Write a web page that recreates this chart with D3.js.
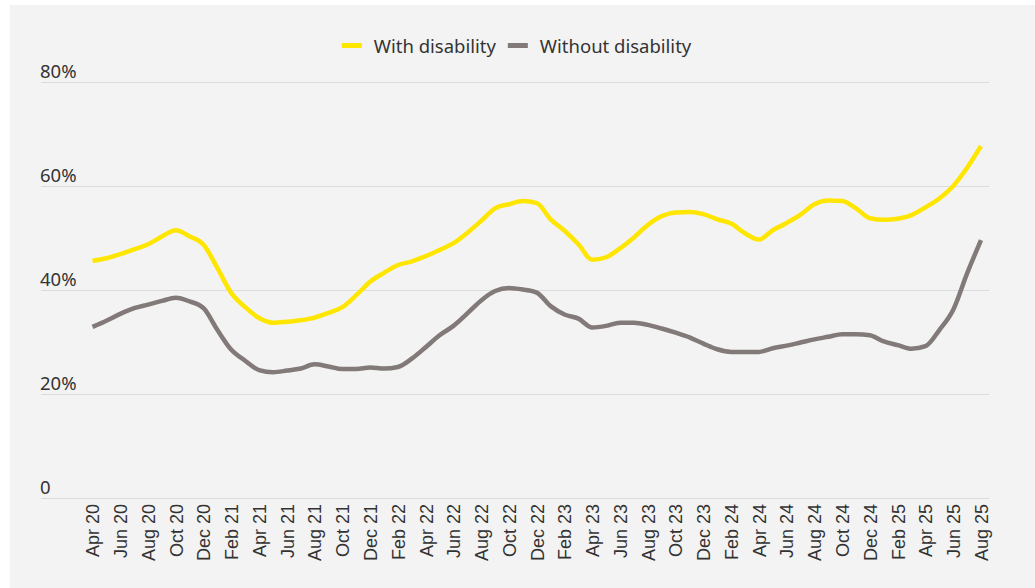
<!DOCTYPE html>
<html>
<head>
<meta charset="utf-8">
<script src="https://cdn.jsdelivr.net/npm/d3@7"></script>
<style>
  html, body { margin: 0; padding: 0; background: #ffffff; }
  svg { display: block; }
</style>
</head>
<body>
<svg id="chart" width="1035" height="588"></svg>
<script>
const months = [
  "Apr 20","May 20","Jun 20","Jul 20","Aug 20","Sep 20","Oct 20","Nov 20","Dec 20",
  "Jan 21","Feb 21","Mar 21","Apr 21","May 21","Jun 21","Jul 21","Aug 21","Sep 21","Oct 21","Nov 21","Dec 21",
  "Jan 22","Feb 22","Mar 22","Apr 22","May 22","Jun 22","Jul 22","Aug 22","Sep 22","Oct 22","Nov 22","Dec 22",
  "Jan 23","Feb 23","Mar 23","Apr 23","May 23","Jun 23","Jul 23","Aug 23","Sep 23","Oct 23","Nov 23","Dec 23",
  "Jan 24","Feb 24","Mar 24","Apr 24","May 24","Jun 24","Jul 24","Aug 24","Sep 24","Oct 24","Nov 24","Dec 24",
  "Jan 25","Feb 25","Mar 25","Apr 25","May 25","Jun 25","Jul 25","Aug 25"
];
const tickLabels = [
  "Apr 20","Jun 20","Aug 20","Oct 20","Dec 20","Feb 21","Apr 21","Jun 21","Aug 21","Oct 21","Dec 21",
  "Feb 22","Apr 22","Jun 22","Aug 22","Oct 22","Dec 22","Feb 23","Apr 23","Jun 23","Aug 23","Oct 23","Dec 23",
  "Feb 24","Apr 24","Jun 24","Aug 24","Oct 24","Dec 24","Feb 25","Apr 25","Jun 25","Aug 25"
];
const withDisability = [
  45.6,46.1,46.9,47.8,48.8,50.3,51.5,50.3,48.7,
  44.2,39.4,36.7,34.6,33.7,33.9,34.2,34.7,35.6,36.7,39.0,41.6,
  43.3,44.8,45.5,46.5,47.7,49.0,51.0,53.3,55.7,56.5,57.1,56.7,
  53.6,51.4,48.8,45.8,46.3,48.0,50.1,52.5,54.2,54.9,55.0,54.6,
  53.6,52.8,50.9,49.7,51.5,52.9,54.5,56.5,57.2,57.1,55.7,53.8,
  53.5,53.7,54.4,55.9,57.6,60.0,63.5,67.7
];
const withoutDisability = [
  32.9,34.1,35.4,36.5,37.2,37.9,38.5,37.8,36.5,
  32.3,28.5,26.4,24.6,24.2,24.5,24.9,25.7,25.3,24.8,24.8,25.1,
  24.9,25.2,26.8,29.0,31.3,33.1,35.5,38.0,39.8,40.4,40.1,39.5,
  36.9,35.3,34.5,32.8,33.1,33.7,33.7,33.3,32.6,31.8,30.9,29.7,
  28.6,28.1,28.1,28.1,28.8,29.3,29.9,30.5,31.0,31.5,31.5,31.3,
  30.1,29.4,28.7,29.2,32.3,36.2,43.2,49.6
];
const yTicks = [0, 20, 40, 60, 80];
const seriesNames = ["With disability", "Without disability"];
const seriesColors = ["#FFE600", "#827a78"];

const svg = d3.select("#chart");

// panel background
svg.append("rect").attr("x", 10).attr("y", 5).attr("width", 1025).attr("height", 583).attr("fill", "#f3f3f3");

const x = d3.scalePoint().domain(months).range([92.5, 981]);
const y = d3.scaleLinear().domain([0, 80]).range([498, 82]);

// gridlines
const gridX0 = 41, gridX1 = 989;
svg.append("g").selectAll("line").data(yTicks).join("line")
  .attr("x1", gridX0).attr("x2", gridX1)
  .attr("y1", d => y(d) + 0.5).attr("y2", d => y(d) + 0.5)
  .attr("stroke", "#dcdcdc").attr("stroke-width", 1);

// y labels
svg.append("g").selectAll("text").data(yTicks).join("text")
  .attr("x", 40).attr("y", d => y(d) - 4)
  .attr("font-family", "'Noto Sans', sans-serif").attr("font-size", 18.5)
  .attr("fill", "#333333")
  .text(d => d === 0 ? "0" : d + "%");

// x axis tick labels
const xAxis = d3.axisBottom(x).tickValues(tickLabels).tickSize(0).tickPadding(0);
const gx = svg.append("g").attr("transform", "translate(0,498)").call(xAxis);
gx.select(".domain").remove();
gx.selectAll("text")
  .attr("font-family", "'Liberation Sans', Arial, sans-serif")
  .attr("font-size", 18)
  .attr("fill", "#333333")
  .attr("text-anchor", "end")
  .attr("transform", "translate(0,6) rotate(-90)")
  .attr("x", 0).attr("y", 0).attr("dy", "0.35em");

// lines
const line = d3.line()
  .x((d, i) => x(months[i]))
  .y(d => y(d))
  .curve(d3.curveMonotoneX);

[withoutDisability, withDisability].forEach((data, k) => {
  const color = k === 0 ? seriesColors[1] : seriesColors[0];
  svg.append("path").datum(data)
    .attr("d", line)
    .attr("fill", "none")
    .attr("stroke", color)
    .attr("stroke-width", 4.5)
    .attr("stroke-linejoin", "round");
});

// legend
const legend = svg.append("g");
const items = legend.selectAll("g").data(seriesNames).join("g");
items.append("rect").attr("width", 20).attr("height", 5).attr("y", -3)
  .attr("fill", (d, i) => seriesColors[i]);
items.append("text").attr("x", 32).attr("y", 6.5)
  .attr("font-family", "'Noto Sans', sans-serif").attr("font-size", 18.5)
  .attr("fill", "#333333").text(d => d);
const widths = [];
items.each(function() {
  const w = 32 + this.querySelector("text").getComputedTextLength();
  widths.push(w);
});
const gap = 12;
const total = widths.reduce((a, b) => a + b, 0) + gap * (widths.length - 1);
let start = 516.5 - total / 2;
items.attr("transform", (d, i) => {
  const t = `translate(${start},46)`;
  start += widths[i] + gap;
  return t;
});
</script>
</body>
</html>
